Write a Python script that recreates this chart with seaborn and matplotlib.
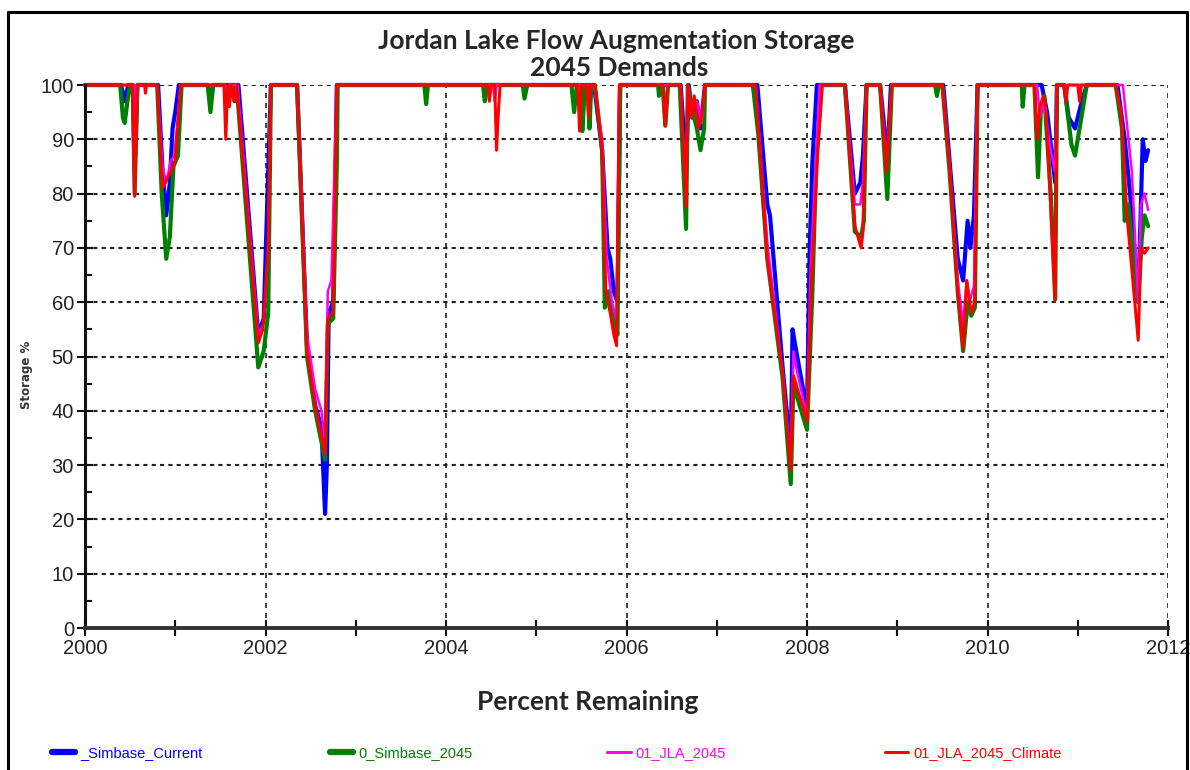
import matplotlib
matplotlib.use("Agg")
import matplotlib.pyplot as plt
from matplotlib.lines import Line2D
from matplotlib.ticker import MultipleLocator
import seaborn as sns
import pandas as pd

# ---------------- data (decimal year, storage %) ----------------
blue_x = [2000.00, 2000.40, 2000.44, 2000.48, 2000.53, 2000.55, 2000.58, 2000.81, 2000.86, 2000.90,
          2000.94, 2000.97, 2001.00, 2001.04, 2001.36, 2001.39, 2001.42, 2001.70, 2001.92, 2001.98,
          2002.03, 2002.06, 2002.35, 2002.46, 2002.55, 2002.62, 2002.66, 2002.68, 2002.70, 2002.75,
          2002.79, 2005.64, 2005.73, 2005.79, 2005.82, 2005.86, 2005.90, 2005.93, 2006.60, 2006.66,
          2006.69, 2006.73, 2006.78, 2006.82, 2006.87, 2007.45, 2007.56, 2007.59, 2007.62, 2007.73,
          2007.82, 2007.84, 2007.87, 2008.00, 2008.03, 2008.06, 2008.11, 2008.42, 2008.53, 2008.59,
          2008.62, 2008.66, 2008.81, 2008.87, 2008.89, 2008.93, 2009.51, 2009.58, 2009.67, 2009.73,
          2009.78, 2009.81, 2009.85, 2009.89, 2010.60, 2010.66, 2010.75, 2010.77, 2010.85, 2010.90,
          2010.97, 2011.03, 2011.10, 2011.44, 2011.52, 2011.58, 2011.67, 2011.70, 2011.72, 2011.75,
          2011.78]
blue_y = [100, 100, 97, 100, 100, 84, 100, 100, 84, 76,
          82, 92, 95, 100, 100, 97, 100, 100, 54, 57,
          84, 100, 100, 52, 41, 37, 21, 30, 58, 60,
          100, 100, 88, 70, 68, 62, 60, 100, 100, 85,
          100, 94, 97, 92, 100, 100, 78, 76, 70, 48,
          32, 55, 52, 40, 70, 86, 100, 100, 80, 82,
          87, 100, 100, 90, 86, 100, 100, 86, 68, 64,
          75, 70, 76, 100, 100, 95, 82, 100, 100, 94,
          92, 96, 100, 100, 90, 80, 60, 78, 90, 86,
          88]

green_x = [2000.00, 2000.39, 2000.42, 2000.44, 2000.47, 2000.50, 2000.53, 2000.55, 2000.58, 2000.80,
           2000.85, 2000.90, 2000.94, 2000.98, 2001.03, 2001.07, 2001.36, 2001.39, 2001.42, 2001.55,
           2001.57, 2001.60, 2001.65, 2001.66, 2001.68, 2001.92, 2001.98, 2002.03, 2002.06, 2002.35,
           2002.46, 2002.55, 2002.66, 2002.69, 2002.75, 2002.79, 2002.80, 2003.76, 2003.78, 2003.80,
           2004.41, 2004.43, 2004.45, 2004.85, 2004.87, 2004.90, 2005.39, 2005.42, 2005.45, 2005.50,
           2005.51, 2005.54, 2005.57, 2005.59, 2005.61, 2005.65, 2005.73, 2005.76, 2005.80, 2005.86,
           2005.90, 2005.93, 2006.35, 2006.36, 2006.37, 2006.40, 2006.43, 2006.46, 2006.59, 2006.66,
           2006.68, 2006.72, 2006.78, 2006.82, 2006.86, 2006.87, 2007.40, 2007.46, 2007.56, 2007.73,
           2007.82, 2007.85, 2007.90, 2008.00, 2008.06, 2008.10, 2008.16, 2008.42, 2008.53, 2008.60,
           2008.63, 2008.66, 2008.81, 2008.89, 2008.94, 2009.42, 2009.44, 2009.46, 2009.50, 2009.58,
           2009.67, 2009.73, 2009.78, 2009.82, 2009.86, 2009.89, 2010.38, 2010.39, 2010.41, 2010.52,
           2010.56, 2010.59, 2010.63, 2010.70, 2010.75, 2010.77, 2010.85, 2010.93, 2010.97, 2011.02,
           2011.10, 2011.42, 2011.49, 2011.52, 2011.56, 2011.62, 2011.67, 2011.71, 2011.74, 2011.78]
green_y = [100, 100, 94, 93, 97, 100, 100, 80, 100, 100,
           80, 68, 72, 85, 87, 100, 100, 95, 100, 100,
           97, 100, 100, 97, 100, 48, 51, 58, 100, 100,
           50, 40, 31, 56, 57, 85, 100, 100, 96.5, 100,
           100, 97, 100, 100, 97.5, 100, 100, 95, 100, 100,
           91.5, 100, 100, 92, 100, 100, 88, 59, 62, 56,
           54, 100, 100, 98, 100, 100, 92.5, 100, 100, 73.5,
           100, 96, 92, 88, 92, 100, 100, 91, 68, 46,
           26.5, 45, 42, 36.5, 62, 85, 100, 100, 73, 72,
           75, 100, 100, 79, 100, 100, 98, 100, 100, 84,
           62, 51, 60, 57.5, 59, 100, 100, 96, 100, 100,
           83, 95, 98, 80, 60.5, 100, 100, 89, 87, 92,
           100, 100, 92, 75, 78, 68, 60, 72, 76, 74]

pink_x = [2000.00, 2000.55, 2000.56, 2000.58, 2000.80, 2000.86, 2000.90, 2000.95, 2000.99, 2001.06,
          2001.55, 2001.57, 2001.59, 2001.69, 2001.92, 2001.98, 2002.03, 2002.06, 2002.35, 2002.46,
          2002.55, 2002.62, 2002.66, 2002.69, 2002.73, 2002.79, 2004.52, 2004.54, 2004.56, 2005.64,
          2005.73, 2005.78, 2005.84, 2005.89, 2005.92, 2006.60, 2006.66, 2006.68, 2006.72, 2006.78,
          2006.83, 2006.87, 2007.43, 2007.56, 2007.73, 2007.82, 2007.85, 2007.88, 2008.00, 2008.04,
          2008.08, 2008.14, 2008.42, 2008.53, 2008.59, 2008.62, 2008.66, 2008.81, 2008.88, 2008.94,
          2009.50, 2009.58, 2009.67, 2009.73, 2009.77, 2009.80, 2009.85, 2009.89, 2010.55, 2010.58,
          2010.62, 2010.70, 2010.75, 2010.77, 2011.50, 2011.55, 2011.60, 2011.67, 2011.70, 2011.74,
          2011.78]
pink_y = [100, 100, 86, 100, 100, 85, 82, 86, 87, 100,
          100, 96, 100, 100, 54, 56, 70, 100, 100, 54,
          44, 40, 34, 62, 64, 100, 100, 97, 100, 100,
          90, 68, 60, 56.5, 100, 100, 79, 100, 95, 97,
          93, 100, 100, 71, 47, 30, 51, 48, 39, 66,
          80, 100, 100, 78, 78, 82, 100, 100, 86, 100,
          100, 85, 64, 56, 64, 60, 63, 100, 100, 94,
          97, 88, 84, 100, 100, 92, 84, 60, 78, 80,
          77]

red_x = [2000.00, 2000.53, 2000.55, 2000.58, 2000.66, 2000.67, 2000.68, 2000.80, 2000.86, 2000.90,
         2000.95, 2001.00, 2001.06, 2001.54, 2001.56, 2001.58, 2001.60, 2001.62, 2001.65, 2001.68,
         2001.92, 2001.97, 2002.03, 2002.06, 2002.35, 2002.46, 2002.55, 2002.66, 2002.69, 2002.75,
         2002.79, 2004.46, 2004.48, 2004.50, 2004.54, 2004.56, 2004.58, 2004.60, 2005.46, 2005.48,
         2005.50, 2005.56, 2005.58, 2005.60, 2005.65, 2005.73, 2005.77, 2005.82, 2005.86, 2005.89,
         2005.92, 2006.40, 2006.43, 2006.46, 2006.60, 2006.66, 2006.68, 2006.72, 2006.75, 2006.80,
         2006.84, 2006.87, 2007.43, 2007.56, 2007.73, 2007.82, 2007.85, 2008.00, 2008.05, 2008.12,
         2008.17, 2008.42, 2008.53, 2008.60, 2008.62, 2008.66, 2008.81, 2008.88, 2008.94, 2009.50,
         2009.58, 2009.67, 2009.73, 2009.77, 2009.82, 2009.86, 2009.89, 2010.52, 2010.55, 2010.58,
         2010.62, 2010.65, 2010.75, 2010.77, 2010.85, 2010.87, 2010.89, 2011.00, 2011.02, 2011.04,
         2011.42, 2011.48, 2011.52, 2011.54, 2011.67, 2011.70, 2011.74, 2011.78]
red_y = [100, 100, 79.5, 100, 100, 98.5, 100, 100, 81, 82.5,
         84, 86, 100, 100, 90, 100, 96, 100, 97, 100,
         52.5, 55, 70, 100, 100, 51, 41, 32, 57, 58,
         100, 100, 97, 100, 100, 88, 95, 100, 100, 91.5,
         100, 100, 94, 100, 100, 88, 62, 58, 54, 52,
         100, 100, 92.5, 100, 100, 77.5, 100, 94, 98, 92,
         95, 100, 100, 68, 47, 29, 46.5, 38, 64, 88,
         100, 100, 74, 70, 73, 100, 100, 84, 100, 100,
         85, 62, 51.5, 64, 58, 60, 100, 100, 90, 96,
         98, 95, 60.5, 100, 100, 97, 100, 100, 97, 100,
         100, 95, 84, 77, 53, 70, 69, 70]

series_names = ["_Simbase_Current", "0_Simbase_2045", "01_JLA_2045", "01_JLA_2045_Climate"]
series_colors = ["#0000FF", "#008000", "#FF00FF", "#FF0000"]
title_lines = ["Jordan Lake Flow Augmentation Storage", "2045 Demands"]
x_ticks = [2000, 2002, 2004, 2006, 2008, 2010, 2012]
y_ticks = [0, 10, 20, 30, 40, 50, 60, 70, 80, 90, 100]

# ---------------- figure ----------------
sns.set_theme(style="white")
plt.rcParams["font.family"] = ["Liberation Sans", "DejaVu Sans"]

fig = plt.figure(figsize=(11.9, 7.7), dpi=100)
ax = fig.add_axes([85 / 1190, 1 - 628 / 770, 1083 / 1190, 543 / 770])

xs = [blue_x, green_x, pink_x, red_x]
ys = [blue_y, green_y, pink_y, red_y]
widths = [3.0, 3.0, 1.8, 2.2]
for x, y, name, c, lw in zip(xs, ys, series_names, series_colors, widths):
    df = pd.DataFrame({"Year": x, "Storage": y})
    sns.lineplot(data=df, x="Year", y="Storage", color=c, lw=lw, ax=ax,
                 estimator=None, sort=False, label=name, clip_on=False, legend=False)

ax.set_xlim(2000, 2012)
ax.set_ylim(0, 100)
ax.set_xticks(x_ticks)
ax.set_yticks(y_ticks)
ax.xaxis.set_minor_locator(MultipleLocator(1))
ax.yaxis.set_minor_locator(MultipleLocator(5))

ax.xaxis.grid(True, which="major", color="#222222", linestyle=(0, (3, 3)), lw=1.2)
ax.yaxis.grid(True, which="major", color="#222222", linestyle=(0, (2, 2)), lw=1.5)
ax.set_axisbelow(True)

for s in ["top", "right"]:
    ax.spines[s].set_visible(False)
ax.spines["left"].set_color("#111111")
ax.spines["left"].set_linewidth(2.2)
ax.spines["bottom"].set_color("#333333")
ax.spines["bottom"].set_linewidth(2.8)

ax.tick_params(axis="both", which="major", direction="inout", length=12, width=1.5,
               color="#111111", labelsize=14.5, pad=2, left=True, bottom=True)
ax.tick_params(axis="y", which="minor", direction="in", length=5, width=1.5,
               color="#111111", left=True)
ax.tick_params(axis="x", which="minor", direction="inout", length=11, width=1.5,
               color="#111111", bottom=True)
for lab in ax.get_xticklabels() + ax.get_yticklabels():
    lab.set_color("#222222")

ax.set_xlabel("Percent Remaining", fontsize=19, fontweight="bold", family=["Lato", "DejaVu Sans"])
ax.xaxis.set_label_coords(503 / 1083, -62 / 543)
ax.set_ylabel("Storage %", fontsize=8.5, fontweight="bold", family=["DejaVu Sans"], color="#333333")
ax.yaxis.set_label_coords(-52 / 1083, 0.466)

fig.text(616 / 1190, 1 - 41 / 770, title_lines[0], ha="center", va="center",
         fontsize=19, fontweight="bold", family=["Lato", "DejaVu Sans"])
fig.text(619 / 1190, 1 - 68 / 770, title_lines[1], ha="center", va="center",
         fontsize=19, fontweight="bold", family=["Lato", "DejaVu Sans"])

# legend: four equally spaced single-entry legends
hw = [4.5, 4.5, 2.2, 2.2]
for i, (name, c) in enumerate(zip(series_names, series_colors)):
    proxy = Line2D([], [], color=c, lw=hw[i], solid_capstyle="round")
    fig.legend([proxy], [name], loc="center left",
               bbox_to_anchor=((52 + 277.7 * i) / 1190, 1 - 753 / 770),
               frameon=False, handlelength=1.6, handletextpad=0.35,
               prop={"size": 10.5, "family": "Liberation Sans"}, labelcolor=c,
               borderaxespad=0, borderpad=0)

# figure frame (left, top, right)
for xy in [([8 / 1190, 8 / 1190], [0, 1 - 12 / 770]),
           ([8 / 1190, 1187 / 1190], [1 - 12 / 770, 1 - 12 / 770]),
           ([1187 / 1190, 1187 / 1190], [1 - 12 / 770, 0])]:
    fig.add_artist(Line2D(xy[0], xy[1], color="black", lw=2.2, transform=fig.transFigure))

fig.savefig("out.png", dpi=100, facecolor="white")
